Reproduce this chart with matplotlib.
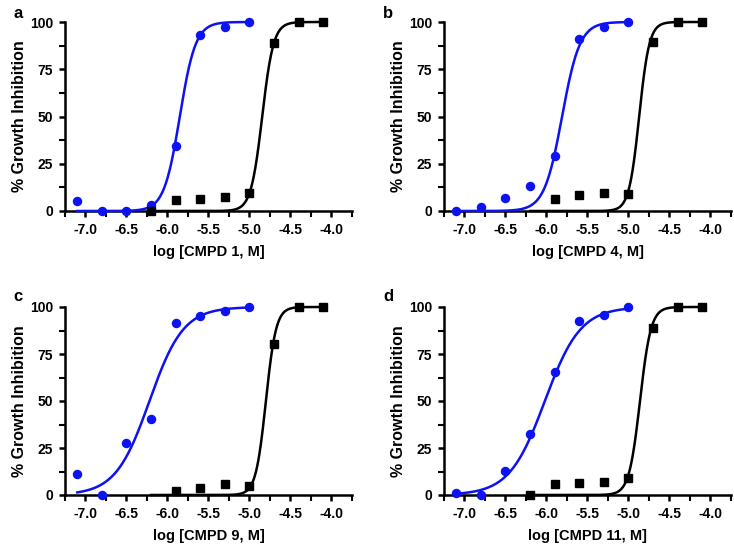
import numpy as np
import matplotlib.pyplot as plt
from matplotlib.ticker import MultipleLocator

plt.rcParams['font.family'] = ['Liberation Sans', 'DejaVu Sans']
plt.rcParams['font.weight'] = 'bold'

# log concentrations
x_blue = [-7.1, -6.8, -6.5, -6.2, -5.9, -5.6, -5.3, -5.0]
x_black = [-6.2, -5.9, -5.6, -5.3, -5.0, -4.7, -4.4, -4.1]

panels = ['a', 'b', 'c', 'd']
xlabels = ['log [CMPD 1, M]', 'log [CMPD 4, M]', 'log [CMPD 9, M]', 'log [CMPD 11, M]']

# % growth inhibition (None = no point shown)
blue_a = [5.5, 0, 0, 3.2, 34.2, 92.9, 97.3, 100]
black_a = [0, 5.8, 6.5, 7.2, 9.4, 88.9, 100, 100]
blue_b = [0, 2.3, 7.1, 13.4, 29.2, 91.0, 97.3, 100]
black_b = [None, 6.2, 8.5, 9.4, 9.0, 89.4, 100, 100]
blue_c = [11.3, 0, 27.4, 40.5, 91.5, 95.2, 97.7, 100]
black_c = [None, 2.1, 3.9, 5.7, 4.8, 80.5, 100, 100]
blue_d = [1.2, 0, 12.7, 32.2, 65.5, 92.4, 95.9, 100]
black_d = [0, 5.7, 6.2, 6.9, 9.2, 88.8, 100, 100]

# fitted dose-response parameters (logEC50, hill slope)
fit_blue = [(-5.85, 4.5), (-5.81, 4.0), (-6.22, 2.1), (-6.02, 2.0)]
fit_black = [(-4.845, 6.3), (-4.87, 7.0), (-4.80, 7.0), (-4.86, 6.5)]

blue_vals = [blue_a, blue_b, blue_c, blue_d]
black_vals = [black_a, black_b, black_c, black_d]

def hill(x, ec50, h):
    return 100.0 / (1.0 + 10 ** ((ec50 - x) * h))

fig = plt.figure(figsize=(7.34, 5.52), dpi=100)
W = 287 / 734
pos = [(65 / 734, 341 / 552, W, 189 / 552),
       (444 / 734, 341 / 552, W, 189 / 552),
       (65 / 734, 57 / 552, W, 188 / 552),
       (444 / 734, 57 / 552, W, 188 / 552)]
letter_xy = [(13, 6), (383, 6), (13, 289), (383, 289)]
blue = '#0c12f2'

for i in range(4):
    ax = fig.add_axes(pos[i])
    xb = np.linspace(-7.1, -5.0, 300)
    ax.plot(xb, hill(xb, *fit_blue[i]), color=blue, lw=1.8, zorder=3, clip_on=False)
    xk = np.linspace(-6.2, -4.1, 300)
    ax.plot(xk, hill(xk, *fit_black[i]), color='black', lw=1.8, zorder=3, clip_on=False)

    bx = [x for x, v in zip(x_blue, blue_vals[i]) if v is not None]
    by = [v for v in blue_vals[i] if v is not None]
    ax.plot(bx, by, 'o', color=blue, ms=5.8, zorder=4, clip_on=False)
    kx = [x for x, v in zip(x_black, black_vals[i]) if v is not None]
    ky = [v for v in black_vals[i] if v is not None]
    ax.plot(kx, ky, 's', color='black', ms=5.6, zorder=4, clip_on=False)

    ax.set_xlim(-7.25, -3.75)
    ax.set_ylim(0, 100)
    ax.set_xticks(np.arange(-7.0, -3.9, 0.5))
    ax.set_xticklabels(['%.1f' % t for t in np.arange(-7.0, -3.9, 0.5)])
    ax.set_yticks([0, 25, 50, 75, 100])
    ax.xaxis.set_minor_locator(MultipleLocator(0.25))
    ax.yaxis.set_minor_locator(MultipleLocator(12.5))
    for s in ['top', 'right']:
        ax.spines[s].set_visible(False)
    for s in ['left', 'bottom']:
        ax.spines[s].set_linewidth(1.8)
    ax.tick_params(which='major', width=1.8, length=4.5, labelsize=10, pad=4)
    ax.tick_params(which='minor', width=1.5, length=4)
    for lab in ax.get_xticklabels() + ax.get_yticklabels():
        lab.set_fontweight('bold')
    ax.set_xlabel(xlabels[i], fontsize=10.5, fontweight='bold', labelpad=6)
    ax.set_ylabel('% Growth Inhibition', fontsize=11.5, fontweight='bold', labelpad=2)
    lx, ly = letter_xy[i]
    fig.text(lx / 734, 1 - ly / 552, panels[i], fontsize=12, fontweight='bold',
             va='top', ha='left')

fig.savefig('out.png', dpi=100)
